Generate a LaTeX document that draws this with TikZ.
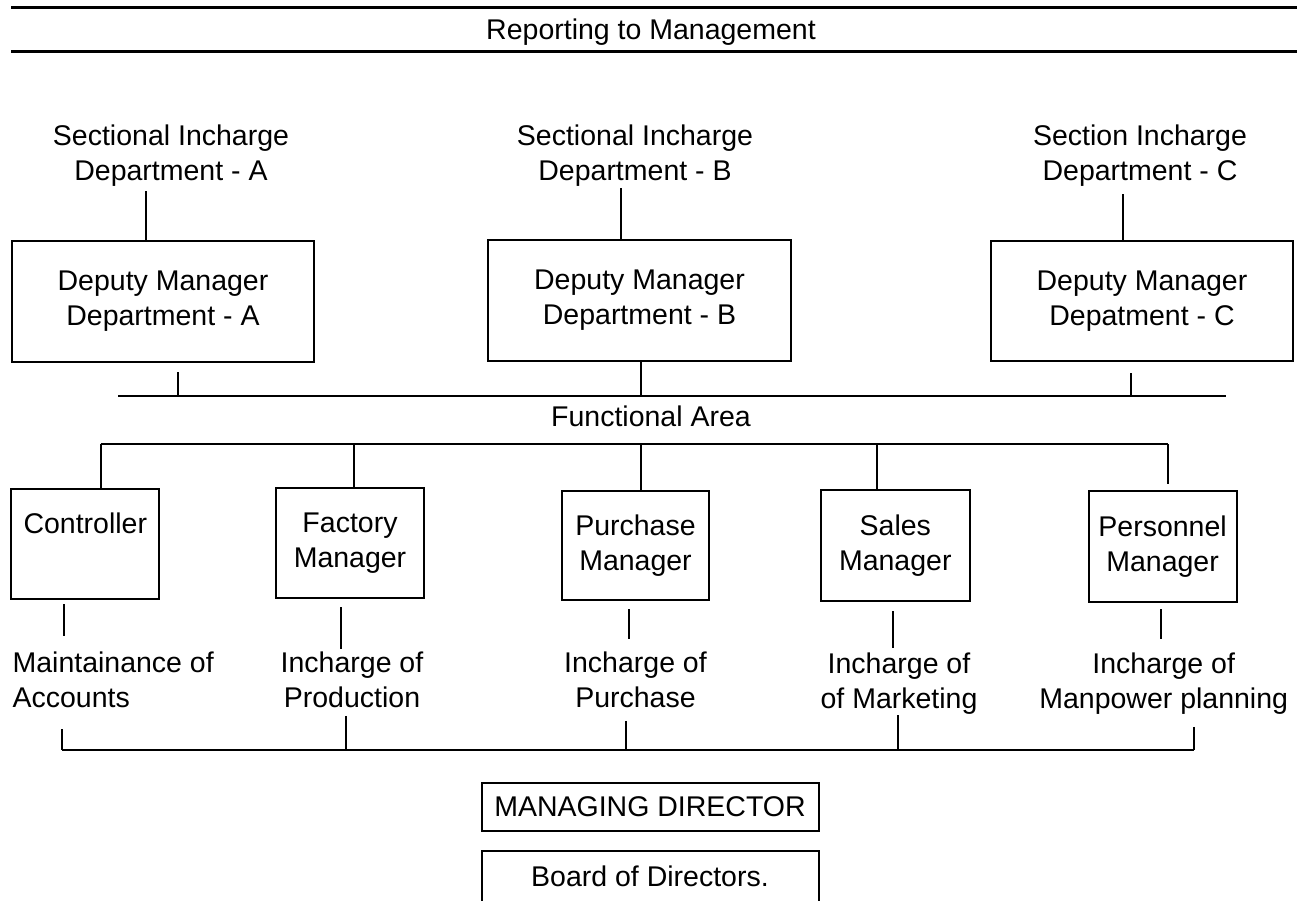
\documentclass[tikz,border=0pt]{standalone}
\usepackage{fontspec}
\setmainfont{Liberation Sans}
\begin{document}
\begin{tikzpicture}[x=1pt, y=-1pt, line width=2pt,
  plain node/.style={align=center,inner sep=0pt},
  dept node/.style={rectangle,draw,align=center,minimum width=302pt,minimum height=121pt,inner sep=0pt},
  func node/.style={rectangle,draw,align=center,minimum width=148pt,minimum height=110pt,inner sep=0pt},
  head node/.style={rectangle,draw,minimum width=337pt,minimum height=48.5pt,inner sep=0pt}]
\useasboundingbox (0,0) rectangle (1299,900);
\draw[line width=2.5pt] (11,7.5) -- (1297,7.5);
\draw[line width=2.5pt] (11,51.5) -- (1297,51.5);
\coordinate (b1w) at (118,396);
\coordinate (b1e) at (1225.5,396);
\coordinate (b2w) at (100.7,444);
\coordinate (b2e) at (1168,444);
\coordinate (b3w) at (62.2,750);
\coordinate (b3e) at (1194,750);
\begin{scope}[every node/.style={font=\fontsize{28.5}{35}\selectfont}]
\node [plain node](rep) at (651,32.5) {Reporting to Management};
\node [plain node](sA) at (171,155.3) {Sectional Incharge\\Department - A};
\node [plain node](sB) at (635,155.3) {Sectional Incharge\\Department - B};
\node [plain node](sC) at (1140,155.3) {Section Incharge\\Department - C};
\node [dept node](dA) at (163,301.5) {Deputy Manager\\Department - A};
\node [dept node,minimum width=303pt](dB) at (639.5,300.5) {Deputy Manager\\Department - B};
\node [dept node,minimum height=120pt](dC) at (1142,301) {Deputy Manager\\Depatment - C};
\node [plain node](fa) at (651,416) {Functional Area};
\node [func node](ctl) at (85.3,544) {Controller\\\phantom{g}};
\node [func node](fac) at (350,543) {Factory\\Manager};
\node [func node,minimum width=147pt,minimum height=109pt](pur) at (635.5,545.5) {Purchase\\Manager};
\node [func node,minimum width=148.6pt,minimum height=110.7pt](sal) at (895.3,545.3) {Sales\\Manager};
\node [func node,minimum height=111pt](per) at (1162.6,546.5) {Personnel\\Manager};
\node [plain node,align=left,anchor=west](acc) at (11.6,680.3) {Maintainance of\\Accounts};
\node [plain node](pro) at (352,680.3) {Incharge of\\Production};
\node [plain node](pch) at (635.5,680.3) {Incharge of\\Purchase};
\node [plain node](mkt) at (899,683.3) {Incharge of\\of Marketing};
\node [plain node](man) at (1163.7,683.3) {Incharge of\\Manpower planning};
\node [head node](md) at (650,806.9) {MANAGING DIRECTOR};
\node [head node,minimum height=52pt](bod) at (650,876.7) {Board of Directors.};
\end{scope}
\path
	(sA.south -| 146,0) edge[shorten <=4pt] (dA.north -| 146,0)
	(sB.south -| 620.6,0) edge[shorten <=1pt] (dB.north -| 620.6,0)
	(sC.south -| 1122.6,0) edge[shorten <=7pt] (dC.north -| 1122.6,0)
	(dA.south -| 178,0) edge[shorten <=9pt] (b1w -| 178,0)
	(dB.south -| 640.5,0) edge (b1w -| 640.5,0)
	(dC.south -| 1131,0) edge[shorten <=11pt] (b1w -| 1131,0)
	(b1w) edge (b1e)
	(b2w) edge (b2e)
	(b2w) edge (ctl.north -| b2w)
	(b2w -| 354,0) edge (fac.north -| 354,0)
	(b2w -| 640.5,0) edge (pur.north -| 640.5,0)
	(b2w -| 876.8,0) edge (sal.north -| 876.8,0)
	(b2e) edge[shorten >=6pt] (per.north -| b2e)
	(ctl.south -| 64,0) edge[shorten <=4pt,shorten >=15pt] (acc.north -| 64,0)
	(fac.south -| 341,0) edge[shorten <=8pt,shorten >=2.5pt] (pro.north -| 341,0)
	(pur.south -| 629,0) edge[shorten <=8pt,shorten >=12.5pt] (pch.north -| 629,0)
	(sal.south -| 893,0) edge[shorten <=9.4pt,shorten >=3.5pt] (mkt.north -| 893,0)
	(per.south -| 1161,0) edge[shorten <=6pt,shorten >=12.5pt] (man.north -| 1161,0)
	(b3w) edge (b3e)
	(acc.south -| b3w) edge[shorten <=20pt] (b3w)
	(pro.south -| 346,0) edge[shorten <=6.7pt] (b3w -| 346,0)
	(pch.south -| 626,0) edge[shorten <=11.7pt] (b3w -| 626,0)
	(mkt.south -| 897.5,0) edge (b3w -| 897.5,0)
	(man.south -| b3e) edge[shorten <=11.7pt] (b3e)
	;
\end{tikzpicture}
\end{document}
